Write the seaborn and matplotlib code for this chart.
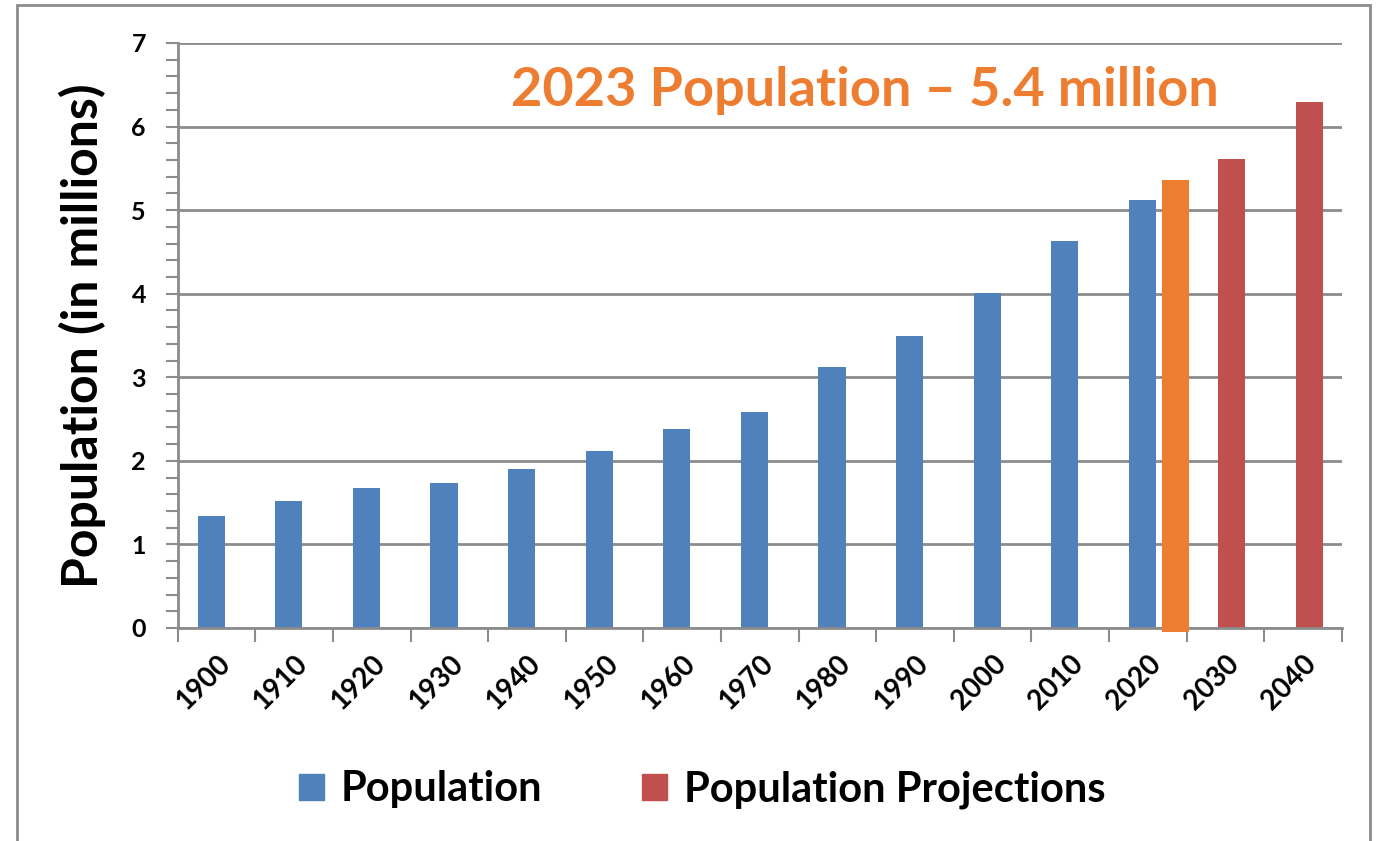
import matplotlib
matplotlib.use("Agg")
import matplotlib.pyplot as plt
import matplotlib.patches as mpatches
from matplotlib.ticker import MultipleLocator, FixedLocator
import seaborn as sns
import pandas as pd

# Data
years = [1900, 1910, 1920, 1930, 1940, 1950, 1960, 1970, 1980, 1990, 2000, 2010, 2020]
population = [1.34, 1.52, 1.68, 1.74, 1.90, 2.12, 2.38, 2.59, 3.12, 3.49, 4.01, 4.63, 5.12]
proj_years = [2030, 2040]
projections = [5.61, 6.29]
current_year = 2023
current_pop = 5.36
all_years = years + proj_years

blue = '#4F81BD'
red = '#C0504D'
orange = '#ED7D31'
grey = '#8C8C8C'

sns.set_style('white')
plt.rcParams['font.family'] = ['Lato', 'DejaVu Sans']
plt.rcParams['text.color'] = 'black'
plt.rcParams['xtick.labelcolor'] = 'black'
plt.rcParams['ytick.labelcolor'] = 'black'
plt.rcParams['axes.labelcolor'] = 'black'

fig = plt.figure(figsize=(13.79, 8.41), dpi=100)
ax = fig.add_axes([0.129, 0.2533, 0.844, 0.6956])

df_pop = pd.DataFrame({'x': [y - 0.7 for y in years], 'value': population})
df_proj = pd.DataFrame({'x': [y + 0.8 for y in proj_years], 'value': projections})
df_cur = pd.DataFrame({'x': [2020 + 3.6], 'value': [current_pop]})

sns.barplot(data=df_pop, x='x', y='value', native_scale=True, width=0.35,
            color=blue, saturation=1, errorbar=None, ax=ax)
sns.barplot(data=df_proj, x='x', y='value', native_scale=True, width=0.35,
            color=red, saturation=1, errorbar=None, ax=ax)
n_before = len(ax.patches)
sns.barplot(data=df_cur, x='x', y='value', native_scale=True, width=3.5,
            color=orange, saturation=1, errorbar=None, ax=ax)
# the 2023 bar dips slightly below the axis line
for p in ax.patches[n_before:]:
    p.set_y(-0.05)
    p.set_height(p.get_height() + 0.05)
    p.set_clip_on(False)
    p.set_zorder(4)
for p in ax.patches:
    p.set_linewidth(0)

ax.set_xlim(1895, 2045)
ax.set_ylim(0, 7)

# y axis
ax.yaxis.set_major_locator(MultipleLocator(1))
ax.yaxis.set_minor_locator(MultipleLocator(0.2))
ax.grid(axis='y', which='major', color=grey, linewidth=2)
ax.set_axisbelow(True)
ax.tick_params(axis='y', which='both', direction='out', length=9, width=1.5, color=grey,
               left=True, labelsize=18, pad=14)
for t in ax.get_yticklabels():
    t.set_fontweight('bold')

# x axis: labels at centres, tick marks at boundaries
ax.xaxis.set_major_locator(FixedLocator(all_years))
ax.set_xticklabels([str(y) for y in all_years], rotation=45, ha='right', va='top',
                   rotation_mode='anchor', fontsize=20, fontweight='bold')
ax.xaxis.set_minor_locator(FixedLocator([y - 5 for y in all_years] + [2045]))
ax.tick_params(axis='x', which='major', length=0, pad=16)
ax.tick_params(axis='x', which='minor', direction='out', length=10, width=1.5,
               color=grey, bottom=True)

for s in ['top', 'right']:
    ax.spines[s].set_visible(False)
for s in ['left', 'bottom']:
    ax.spines[s].set_color(grey)
    ax.spines[s].set_linewidth(2)

ax.set_xlabel('')
ax.set_ylabel('Population (in millions)', fontsize=36, fontweight='bold', labelpad=18)

ax.text(0.59, 0.918, f'{current_year} Population \u2013 5.4 million', transform=ax.transAxes,
        ha='center', va='center', fontsize=39, fontweight='bold', color=orange)

handles = [mpatches.Patch(color=blue, label='Population'),
           mpatches.Patch(color=red, label='Population Projections')]
leg = fig.legend(handles=handles, loc='center', bbox_to_anchor=(0.509, 0.061), ncol=2,
                 frameon=False, prop={'size': 30, 'weight': 'bold'},
                 handlelength=0.6, handleheight=0.6, handletextpad=0.4, columnspacing=2.4)

# outer border
fig.patches.append(mpatches.Rectangle((17 / 1379, -0.01), (1370 - 17) / 1379, 1 - 5 / 841 + 0.01,
                                      transform=fig.transFigure, fill=False,
                                      edgecolor=grey, linewidth=2))

fig.savefig('out.png', dpi=100)
